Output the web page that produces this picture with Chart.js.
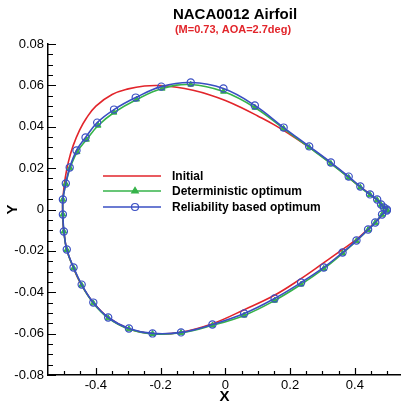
<!DOCTYPE html>
<html>
<head>
<meta charset="utf-8">
<script src="https://cdn.jsdelivr.net/npm/chart.js@4/dist/chart.umd.min.js"></script>
<style>
html,body{margin:0;padding:0;background:#fff;}
#wrap{width:406px;height:404px;}
</style>
</head>
<body>
<div id="wrap"><canvas id="c" width="406" height="404"></canvas></div>
<script>
// ---- Data ----
const titleText = "NACA0012 Airfoil";
const subtitleText = "(M=0.73, AOA=2.7deg)";
const seriesNames = ["Initial", "Deterministic optimum", "Reliability based optimum"];

const initialX = [0.500,0.480,0.450,0.400,0.350,0.300,0.250,0.200,0.150,0.100,0.050,0.000,-0.050,-0.100,-0.150,-0.200,-0.250,-0.300,-0.350,-0.400,-0.430,-0.450,-0.470,-0.485,-0.495,-0.501,-0.503,
  -0.502,-0.499,-0.490,-0.470,-0.445,-0.408,-0.362,-0.300,-0.225,-0.140,-0.040,0.060,0.150,0.230,0.300,0.360,0.405,0.440,0.470,0.500];
const initialY = [0.0000,0.0030,0.0070,0.0130,0.0195,0.0255,0.0310,0.0362,0.0410,0.0452,0.0492,0.0527,0.0555,0.0576,0.0591,0.0599,0.0597,0.0583,0.0556,0.0500,0.0440,0.0385,0.0310,0.0230,0.0150,0.0070,0.0000,
  -0.0060,-0.0106,-0.0193,-0.0280,-0.0363,-0.0450,-0.0522,-0.0575,-0.0600,-0.0594,-0.0552,-0.0483,-0.0416,-0.0338,-0.0262,-0.0195,-0.0145,-0.0095,-0.0052,0.0000];

const detX = [0.499,0.490,0.481,0.469,0.447,0.417,0.381,0.326,0.259,0.180,0.091,-0.006,-0.107,-0.195,-0.274,-0.344,-0.393,-0.429,-0.458,-0.480,-0.493,-0.502,
  -0.502,-0.499,-0.490,-0.469,-0.444,-0.408,-0.362,-0.298,-0.225,-0.137,-0.040,0.058,0.152,0.234,0.304,0.362,0.405,0.441,0.463,0.484,0.499];
const detY = [0.0000,0.0010,0.0023,0.0046,0.0071,0.0107,0.0154,0.0222,0.0300,0.0391,0.0493,0.0570,0.0604,0.0585,0.0532,0.0469,0.0406,0.0338,0.0278,0.0200,0.0124,0.0048,
  -0.0024,-0.0106,-0.0195,-0.0283,-0.0366,-0.0453,-0.0525,-0.0578,-0.0601,-0.0596,-0.0560,-0.0512,-0.0440,-0.0362,-0.0286,-0.0212,-0.0152,-0.0098,-0.0064,-0.0025,-0.0005];

const relX = [0.499,0.490,0.481,0.469,0.447,0.417,0.381,0.326,0.259,0.180,0.091,-0.006,-0.107,-0.198,-0.277,-0.344,-0.396,-0.432,-0.460,-0.481,-0.493,-0.502,
  -0.502,-0.499,-0.490,-0.469,-0.444,-0.408,-0.362,-0.298,-0.225,-0.137,-0.040,0.058,0.152,0.234,0.304,0.362,0.405,0.441,0.463,0.484,0.499];
const relY = [0.0000,0.0010,0.0024,0.0048,0.0073,0.0111,0.0159,0.0227,0.0305,0.0396,0.0503,0.0585,0.0614,0.0594,0.0541,0.0483,0.0420,0.0348,0.0285,0.0203,0.0126,0.0048,
  -0.0024,-0.0106,-0.0193,-0.0280,-0.0363,-0.0450,-0.0522,-0.0575,-0.0599,-0.0594,-0.0556,-0.0503,-0.0430,-0.0353,-0.0280,-0.0208,-0.0150,-0.0097,-0.0063,-0.0024,-0.0005];

const xTickLabels = [-0.4, -0.2, 0, 0.2, 0.4];
const yTickLabels = [-0.08, -0.06, -0.04, -0.02, 0, 0.02, 0.04, 0.06, 0.08];

// ---- Styling ----
const RED = '#e2252b', GREEN = '#36b34a', BLUE = '#3a4fc3';
const FONT = '"Liberation Sans", Arial, Helvetica, sans-serif';

function pts(xs, ys){ return xs.map((v,i)=>({x:v, y:ys[i]})); }

const overlay = {
  id: 'overlay',
  afterDraw(chart){
    const ctx = chart.ctx, a = chart.chartArea, xs = chart.scales.x, ys = chart.scales.y;
    ctx.save();
    // inward tick marks
    ctx.strokeStyle = '#000'; ctx.lineWidth = 1.2;
    ctx.beginPath();
    for (let k = -11; k <= 10; k++) {
      const v = k * 0.05;
      if (v < xs.min - 1e-9 || v > xs.max + 1e-9) continue;
      const px = Math.round(xs.getPixelForValue(v)) + 0.5;
      const major = xTickLabels.some(t => Math.abs(t - v) < 1e-9);
      ctx.moveTo(px, a.bottom); ctx.lineTo(px, a.bottom - (major ? 7 : 4));
    }
    for (let k = -16; k <= 16; k++) {
      const v = k * 0.005;
      const py = Math.round(ys.getPixelForValue(v)) + 0.5;
      const major = yTickLabels.some(t => Math.abs(t - v) < 1e-9);
      ctx.moveTo(a.left, py); ctx.lineTo(a.left + (major ? 8 : 5), py);
    }
    ctx.stroke();

    // titles
    ctx.textAlign = 'center'; ctx.textBaseline = 'middle';
    ctx.fillStyle = '#000'; ctx.font = 'bold 15px ' + FONT;
    ctx.fillText(titleText, 235, 15);
    ctx.fillStyle = RED; ctx.font = 'bold 11px ' + FONT;
    ctx.fillText(subtitleText, 233, 30);

    // legend
    const lx0 = 103, lx1 = 161, rows = [176, 191, 207], cols = [RED, GREEN, BLUE];
    ctx.lineWidth = 1.6;
    rows.forEach((ry, i) => {
      ctx.strokeStyle = cols[i];
      ctx.beginPath(); ctx.moveTo(lx0, ry); ctx.lineTo(lx1, ry); ctx.stroke();
      const mx = (lx0 + lx1) / 2 + 3;
      if (i === 1) {
        ctx.fillStyle = GREEN; ctx.lineWidth = 1.2;
        ctx.beginPath(); ctx.moveTo(mx, ry - 3.6); ctx.lineTo(mx + 3.3, ry + 2); ctx.lineTo(mx - 3.3, ry + 2); ctx.closePath();
        ctx.fill(); ctx.stroke(); ctx.lineWidth = 1.6;
      } else if (i === 2) {
        ctx.lineWidth = 1.2;
        ctx.beginPath(); ctx.arc(mx, ry, 3.5, 0, Math.PI * 2); ctx.stroke(); ctx.lineWidth = 1.6;
      }
      ctx.fillStyle = '#000'; ctx.font = 'bold 12px ' + FONT;
      ctx.textAlign = 'left'; ctx.textBaseline = 'middle';
      ctx.fillText(seriesNames[i], 172, ry + 0.5);
    });
    ctx.restore();
  }
};

new Chart(document.getElementById('c'), {
  type: 'scatter',
  data: {
    datasets: [
      { label: seriesNames[0], data: pts(initialX, initialY), showLine: true, borderColor: RED, borderWidth: 1.6,
        pointRadius: 0, tension: 0.4, order: 3 },
      { label: seriesNames[1], data: pts(detX, detY), showLine: true, borderColor: GREEN, borderWidth: 1.6,
        pointStyle: 'triangle', pointRadius: 3.3, pointBorderWidth: 1, pointBackgroundColor: GREEN, pointBorderColor: GREEN,
        tension: 0.4, order: 2 },
      { label: seriesNames[2], data: pts(relX, relY), showLine: true, borderColor: BLUE, borderWidth: 1.6,
        pointStyle: 'circle', pointRadius: 3.6, pointBorderWidth: 1.2, pointBackgroundColor: 'rgba(0,0,0,0)', pointBorderColor: BLUE,
        tension: 0.4, order: 1 }
    ]
  },
  options: {
    responsive: false,
    animation: false,
    layout: { padding: { top: 44, right: 0, bottom: 0, left: 0 } },
    plugins: { legend: { display: false }, tooltip: { enabled: false }, title: { display: false } },
    scales: {
      x: {
        type: 'linear', min: -0.548, max: 0.542,
        afterBuildTicks: s => { s.ticks = xTickLabels.map(v => ({ value: v })); },
        afterFit: s => { s.height = 29; },
        grid: { display: false, drawTicks: false },
        border: { display: true, color: '#000', width: 1.5 },
        ticks: { color: '#000', font: { family: FONT, size: 13 }, padding: 3, maxRotation: 0, autoSkip: false,
                 callback: v => (Math.abs(v) < 1e-9 ? '0' : String(Math.round(v * 10) / 10)) },
        title: { display: true, text: 'X', color: '#000', font: { family: FONT, size: 15, weight: 'bold', lineHeight: 1 }, padding: { top: 0, bottom: 0 } }
      },
      y: {
        type: 'linear', min: -0.08, max: 0.08,
        afterBuildTicks: s => { s.ticks = yTickLabels.map(v => ({ value: v })); },
        afterFit: s => { s.width = 48; },
        grid: { display: false, drawTicks: false },
        border: { display: true, color: '#000', width: 1.5 },
        ticks: { color: '#000', font: { family: FONT, size: 13 }, padding: 4, autoSkip: false,
                 callback: v => (Math.abs(v) < 1e-9 ? '0' : v.toFixed(2)) },
        title: { display: true, text: 'Y', color: '#000', font: { family: FONT, size: 15, weight: 'bold', lineHeight: 1 }, padding: { top: 5, bottom: 0 } }
      }
    }
  },
  plugins: [overlay]
});
</script>
</body>
</html>
